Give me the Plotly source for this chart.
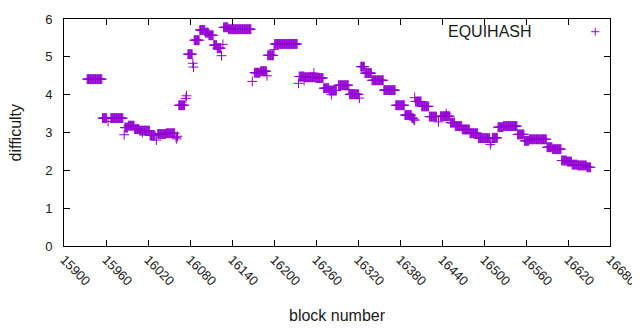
import plotly.graph_objects as go

# Runs of blocks sharing a constant difficulty: (first block, last block, difficulty)
run_start = [15933, 15955, 15967, 15987, 15992, 16001, 16008, 16023, 16034, 16046,
             16064, 16077, 16086, 16094, 16102, 16107, 16114, 16119, 16128, 16135,
             16172, 16181, 16191, 16201, 16236, 16244, 16260, 16271, 16279, 16292,
             16308, 16324, 16330, 16340, 16357, 16374, 16387, 16397, 16400, 16402,
             16411, 16422, 16438, 16452, 16459, 16469, 16480, 16492, 16512, 16520,
             16528, 16548, 16558, 16565, 16590, 16598, 16611, 16619, 16626, 16634,
             16647]
run_end = [15954, 15961, 15984, 15991, 16000, 16007, 16022, 16030, 16045, 16058,
           16072, 16083, 16093, 16101, 16106, 16113, 16118, 16124, 16134, 16167,
           16180, 16189, 16199, 16233, 16243, 16259, 16270, 16278, 16289, 16306,
           16321, 16329, 16339, 16356, 16373, 16386, 16396, 16399, 16401, 16410,
           16421, 16432, 16451, 16458, 16468, 16479, 16491, 16508, 16519, 16527,
           16547, 16557, 16564, 16589, 16597, 16610, 16618, 16625, 16633, 16646,
           16652]
run_value = [4.41, 3.38, 3.38, 3.13, 3.18, 3.09, 3.05, 2.92, 2.96, 2.98,
             3.72, 5.07, 5.44, 5.71, 5.64, 5.57, 5.31, 5.23, 5.78, 5.73,
             4.58, 4.62, 5.04, 5.34, 4.48, 4.46, 4.44, 4.17, 4.11, 4.25,
             4.01, 4.74, 4.57, 4.38, 4.12, 3.72, 3.46, 3.38, 3.33, 3.82,
             3.69, 3.42, 3.43, 3.26, 3.17, 3.08, 2.98, 2.85, 2.86, 3.14,
             3.17, 2.95, 2.78, 2.82, 2.61, 2.56, 2.26, 2.23, 2.15, 2.13,
             2.08]

# Single outlying blocks
single_block = [15963, 15986, 16012, 16032, 16060, 16061, 16062, 16074, 16075, 16084,
                16085, 16125, 16127, 16169, 16190, 16200, 16235, 16243, 16257, 16282,
                16307, 16322, 16401, 16435, 16446, 16509, 16510]
single_value = [3.29, 2.94, 3.00, 2.80, 2.87, 2.83, 2.90, 3.90, 3.97, 4.83,
                4.73, 5.03, 5.33, 4.35, 4.50, 5.19, 4.30, 4.37, 4.57, 4.00,
                4.13, 3.91, 3.92, 3.28, 3.50, 2.68, 2.74]

x_ticks = [15900, 15960, 16020, 16080, 16140, 16200, 16260, 16320, 16380, 16440,
           16500, 16560, 16620, 16680]
y_ticks = [0, 1, 2, 3, 4, 5, 6]

blocks, diffs = [], []
for s, e, v in zip(run_start, run_end, run_value):
    for b in range(s, e + 1):
        blocks.append(b)
        diffs.append(v)
blocks += single_block
diffs += single_value

COLOR = "#9400D3"
FONT = "Liberation Sans"
TXT = "#1a1a1a"

fig = go.Figure()
fig.add_trace(go.Scatter(
    x=blocks, y=diffs, mode="markers", name="EQUIHASH",
    marker=dict(symbol="cross-thin", size=7, line=dict(color=COLOR, width=1), color=COLOR),
    showlegend=False,
))

axis_common = dict(
    showline=True, linecolor="black", linewidth=1, mirror="allticks",
    ticks="inside", ticklen=6, tickcolor="black", tickwidth=1,
    showgrid=False, zeroline=False, automargin=False,
    tickfont=dict(family=FONT, size=13, color=TXT),
)

# the page body adds an 8px offset, so the figure is 8px smaller and margins compensate
fig.update_layout(
    width=632, height=322,
    margin=dict(l=56, r=30, t=11, b=84),
    paper_bgcolor="white", plot_bgcolor="white",
    xaxis=dict(range=[15900, 16680], tickvals=x_ticks, ticktext=[str(t) for t in x_ticks],
               tickangle=45, **axis_common),
    yaxis=dict(range=[0, 6], tickvals=y_ticks, ticktext=[str(t) for t in y_ticks],
               ticklabelstandoff=8, **axis_common),
    annotations=[
        dict(text="EQUIHASH", xref="paper", yref="paper", x=0.86, y=0.944,
             xanchor="right", yanchor="middle", showarrow=False,
             font=dict(family=FONT, size=16, color=TXT)),
        dict(text="block number", xref="paper", yref="paper", x=0.5, y=-0.304,
             xanchor="center", yanchor="middle", showarrow=False,
             font=dict(family=FONT, size=16, color=TXT)),
        dict(text="difficulty", xref="paper", yref="paper", x=-0.088, y=0.5,
             xanchor="center", yanchor="middle", showarrow=False, textangle=-90,
             font=dict(family=FONT, size=16, color=TXT)),
    ],
    shapes=[
        dict(type="line", xref="paper", yref="paper", x0=0.9655, x1=0.9805, y0=0.944, y1=0.944,
             line=dict(color=COLOR, width=1)),
        dict(type="line", xref="paper", yref="paper", x0=0.973, x1=0.973, y0=0.927, y1=0.961,
             line=dict(color=COLOR, width=1)),
    ],
)

fig.write_html("out.html")
